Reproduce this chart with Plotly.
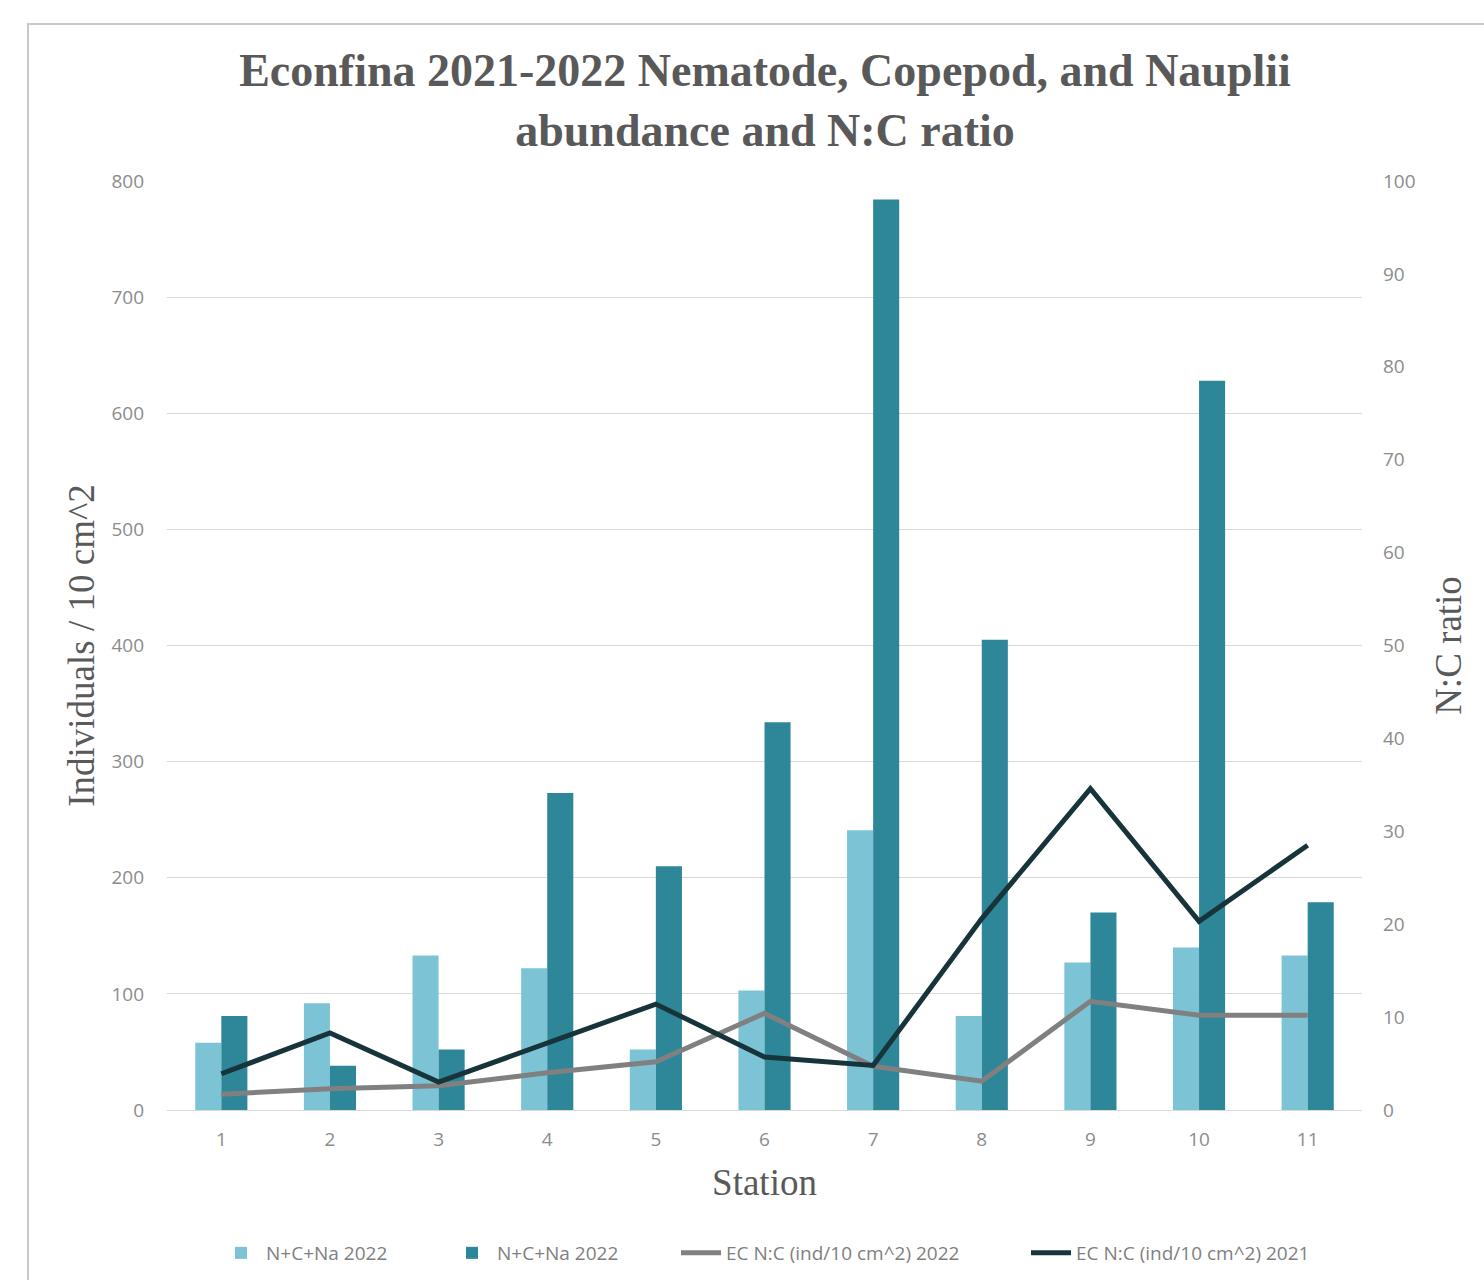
import plotly.graph_objects as go

# Station numbers along the x axis
stations = [1, 2, 3, 4, 5, 6, 7, 8, 9, 10, 11]

# Nematode + copepod + nauplii abundance (individuals / 10 cm^2)
abund_light = [58, 92, 133, 122, 52, 103, 241, 81, 127, 140, 133]
abund_dark = [81, 38, 52, 273, 210, 334, 784, 405, 170, 628, 179]

# N:C ratio series (right axis)
nc_2022 = [1.7, 2.3, 2.6, 4.0, 5.2, 10.4, 4.7, 3.1, 11.7, 10.2, 10.2]
nc_2021 = [3.9, 8.3, 3.0, 7.2, 11.4, 5.7, 4.8, 20.6, 34.6, 20.3, 28.5]

W, H = 1484, 1280
L, R, T, B = 167, 122, 181, 170
pw, ph = W - L - R, H - T - B

TICK = dict(family="Open Sans, Lato, sans-serif", size=19, color="#8c8c8c")
SERIF = "Liberation Serif, Times New Roman, serif"
AXT = dict(family=SERIF, size=37, color="#595959")
LEGFONT = dict(family="Open Sans, Lato, sans-serif", size=19, color="#7f7f7f")

fig = go.Figure()
fig.add_trace(go.Bar(x=stations, y=abund_light, name="N+C+Na 2022",
                     marker=dict(color="#7cc4d5", line=dict(width=0)),
                     legend="legend"))
fig.add_trace(go.Bar(x=stations, y=abund_dark, name="N+C+Na 2022",
                     marker=dict(color="#2e8699", line=dict(width=0)),
                     legend="legend"))
fig.add_trace(go.Scatter(x=stations, y=nc_2022, name="EC N:C (ind/10 cm^2) 2022",
                         mode="lines", yaxis="y2", legend="legend2",
                         line=dict(color="#808080", width=5)))
fig.add_trace(go.Scatter(x=stations, y=nc_2021, name="EC N:C (ind/10 cm^2) 2021",
                         mode="lines", yaxis="y2", legend="legend2",
                         line=dict(color="#17343a", width=5)))


def px_x(p):
    return (p - L) / pw


def px_y(p):
    return (H - B - p) / ph


fig.update_layout(
    width=W, height=H,
    margin=dict(l=L, r=R, t=T, b=B, autoexpand=False),
    paper_bgcolor="white", plot_bgcolor="white",
    barmode="group", bargap=0.52, bargroupgap=0,
    title=dict(
        text="Econfina 2021-2022 Nematode, Copepod, and Nauplii<br>abundance and N:C ratio",
        x=px_x(765), xanchor="center", xref="paper",
        y=1 - 86 / H, yanchor="top",
        font=dict(family=SERIF, size=46, color="#595959", weight="bold"),
    ),
    xaxis=dict(
        range=[0.5, 11.5], tickvals=stations, ticktext=[str(s) for s in stations],
        showgrid=False, zeroline=False, showline=False, ticks="",
        tickfont=TICK, ticklabelstandoff=16,
        title=dict(text="Station", font=AXT, standoff=18),
    ),
    yaxis=dict(
        range=[0, 800], dtick=100, showgrid=True, gridcolor="#d9d9d9", gridwidth=1,
        zeroline=True, zerolinecolor="#d9d9d9", zerolinewidth=1,
        showline=False, ticks="", tickfont=TICK, ticklabelstandoff=22,
        title=dict(text="Individuals / 10 cm^2", font=AXT, standoff=5),
    ),
    yaxis2=dict(
        range=[0, 100], dtick=10, overlaying="y", side="right",
        showgrid=False, zeroline=False, showline=False, ticks="",
        tickfont=TICK, ticklabelstandoff=20,
        title=dict(text="N:C ratio", font=AXT, standoff=20),
    ),
    legend=dict(
        orientation="h", x=px_x(216), xanchor="left",
        y=px_y(1253), yanchor="middle", font=LEGFONT,
        itemwidth=40, traceorder="normal",
        entrywidth=176, entrywidthmode="pixels",
    ),
    legend2=dict(
        orientation="h", x=px_x(676), xanchor="left",
        y=px_y(1253), yanchor="middle", font=LEGFONT,
        itemwidth=40, traceorder="normal",
        entrywidth=295, entrywidthmode="pixels",
    ),
    shapes=[
        dict(type="rect", xref="paper", yref="paper",
             x0=px_x(28), x1=px_x(W + 20), y0=px_y(H + 20), y1=px_y(24),
             line=dict(color="#c8c8c8", width=2), layer="below"),
    ],
)

fig.write_html("out.html")
